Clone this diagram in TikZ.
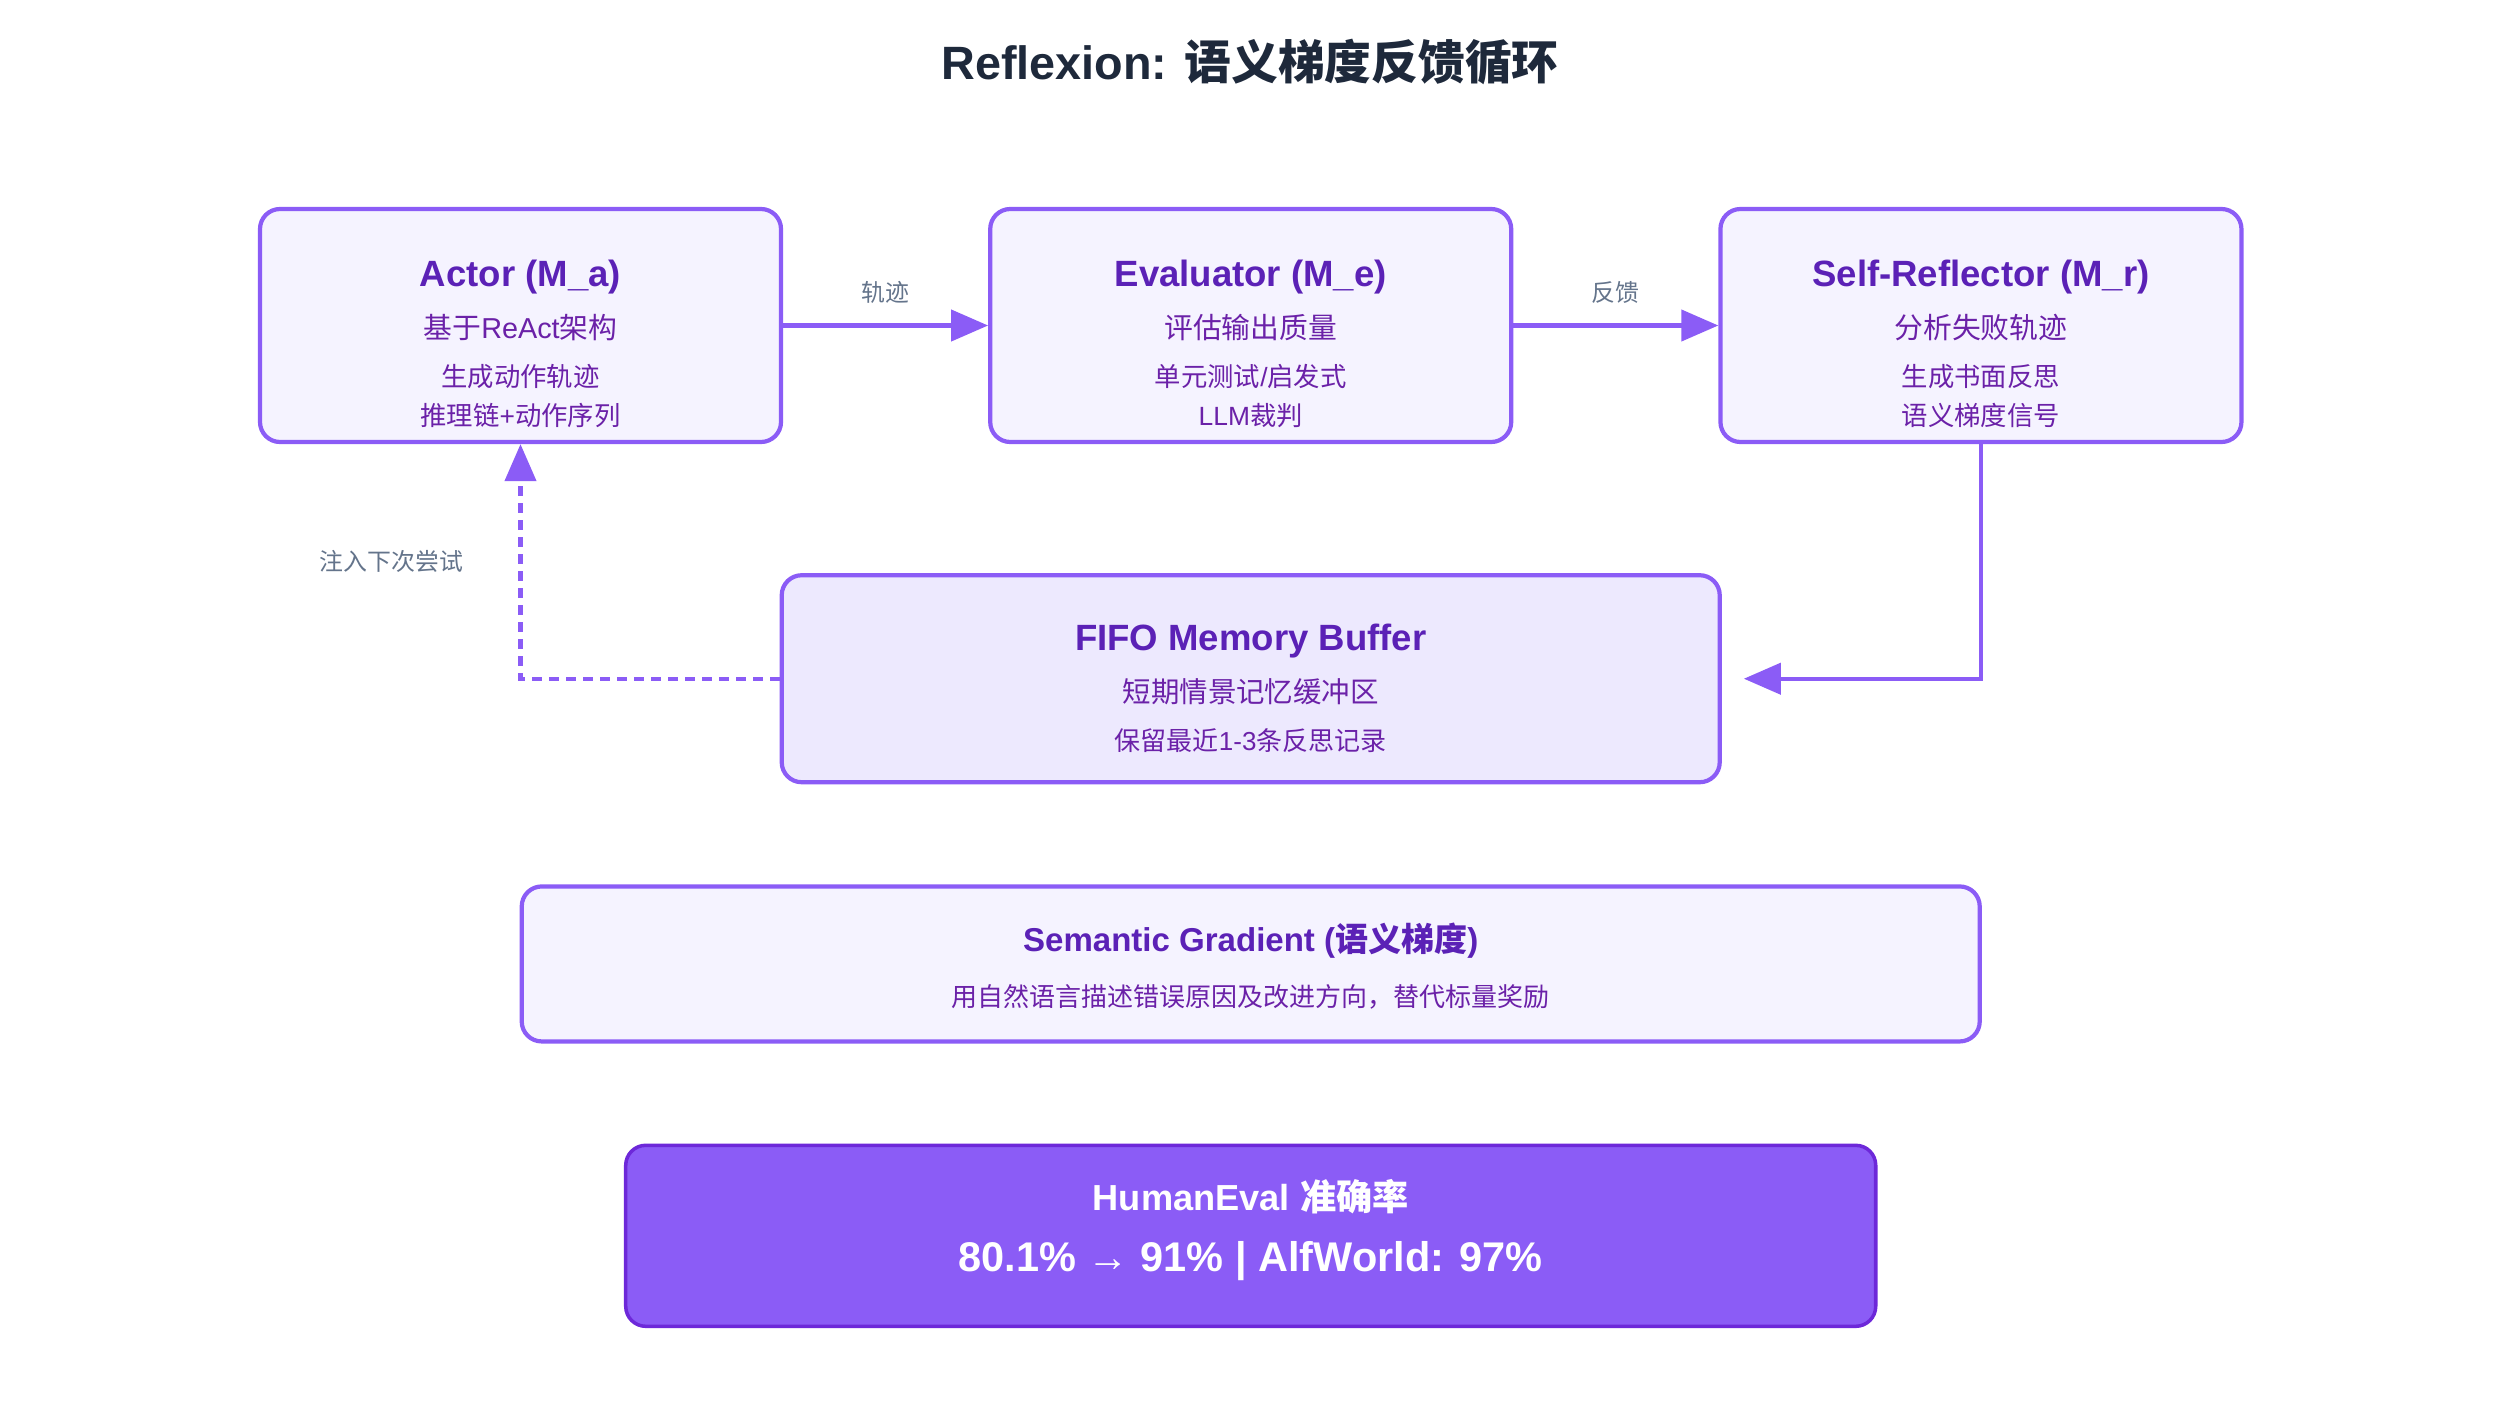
\documentclass[tikz,border=0pt]{standalone}
\usepackage{fontspec}
\setmainfont{Liberation Sans}
\newfontfamily\zhfont{Noto Sans CJK SC}
\newcommand{\hanzi}[1]{{\zhfont #1}}
\usepackage{tikz}
\usetikzlibrary{arrows.meta,positioning,calc}
\usepackage{xcolor}
\definecolor{violetline}{HTML}{8B5CF6}
\definecolor{violetfill}{HTML}{F5F3FF}
\definecolor{memfill}{HTML}{EDE9FE}
\definecolor{violetdeep}{HTML}{5B21B6}
\definecolor{violetsub}{HTML}{6B21A8}
\definecolor{resultline}{HTML}{6D28D9}
\definecolor{slatelabel}{HTML}{64748B}
\definecolor{titleink}{HTML}{1E293B}

\begin{document}
\begin{tikzpicture}[>={Triangle[length=0.37cm,width=0.31cm]},line width=1.2pt]
\tikzstyle{block}=[draw=violetline,fill=violetfill,rounded corners=0.2cm,minimum width=5.21cm,minimum height=2.33cm]
\tikzstyle{memblock}=[block,fill=memfill,minimum width=9.38cm,minimum height=2.07cm]
\tikzstyle{gradblock}=[block,minimum width=14.58cm,minimum height=1.55cm]
\tikzstyle{resultblock}=[draw=resultline,fill=violetline,line width=1pt,rounded corners=0.2cm,minimum width=12.5cm,minimum height=1.81cm]
\tikzstyle{blocktext}=[inner sep=0pt,align=center,text=violetsub]
\tikzstyle{flow}=[->,draw=violetline]
\tikzstyle{feedback}=[flow,dash pattern=on 0.1cm off 0.07cm]
\tikzstyle{flowlabel}=[text=slatelabel,inner sep=0pt,font=\fontsize{6.8}{8}\selectfont]
\newcommand{\headline}[1]{{\fontsize{10.4}{12}\selectfont\bfseries\color{violetdeep}#1}}
\useasboundingbox (0,0) rectangle (25,-14.06);

\node[text=titleink,font=\fontsize{13.3}{16}\selectfont\bfseries] (title) at (12.5,-0.62) {Reflexion: \hanzi{语义梯度反馈循环}};

% top row
\node[block] (actor) at (5.205,-3.255) {};
\node[block,right=2.05cm of actor] (evaluator) {};
\node[block,right=2.05cm of evaluator] (reflector) {};
\node[blocktext,below=0.51cm of actor.north,font=\fontsize{7.5}{11.1}\selectfont] (actortext) {
  \headline{Actor (M\_a)}\\[3.7pt]
  {\fontsize{8.2}{10}\selectfont\hanzi{基于}ReAct\hanzi{架构}}\\[2.6pt]
  \hanzi{生成动作轨迹}\\
  \hanzi{推理链}+\hanzi{动作序列}};
\node[blocktext,below=0.51cm of evaluator.north,font=\fontsize{7.5}{11.1}\selectfont] (evaluatortext) {
  \headline{Evaluator (M\_e)}\\[3.7pt]
  {\fontsize{8.2}{10}\selectfont\hanzi{评估输出质量}}\\[2.6pt]
  \hanzi{单元测试}/\hanzi{启发式}\\
  LLM\hanzi{裁判}};
\node[blocktext,below=0.51cm of reflector.north,font=\fontsize{7.5}{11.1}\selectfont] (reflectortext) {
  \headline{Self-Reflector (M\_r)}\\[3.7pt]
  {\fontsize{8.2}{10}\selectfont\hanzi{分析失败轨迹}}\\[2.6pt]
  \hanzi{生成书面反思}\\
  \hanzi{语义梯度信号}};

% memory and summary
\node[memblock,below=1.29cm of evaluator] (fifo) {};
\node[blocktext,below=0.49cm of fifo.north,font=\fontsize{7.4}{11}\selectfont] (fifotext) {
  \headline{FIFO Memory Buffer}\\[3.8pt]
  {\fontsize{8.1}{10}\selectfont\hanzi{短期情景记忆缓冲区}}\\[2.7pt]
  \hanzi{保留最近}1-3\hanzi{条反思记录}};
\node[gradblock,below=1.0cm of fifo] (gradient) {};
\node[blocktext,below=0.37cm of gradient.north,font=\fontsize{7.4}{10}\selectfont] (gradienttext) {
  {\fontsize{9.4}{11}\selectfont\bfseries\color{violetdeep}Semantic Gradient (\hanzi{语义梯度})}\\[5.4pt]
  \hanzi{用自然语言描述错误原因及改进方向，替代标量奖励}};
\node[resultblock,below=1.0cm of gradient] (result) {};
\node[blocktext,text=white,below=0.34cm of result.north,font=\fontsize{11.8}{14}\selectfont\bfseries] (resulttext) {
  {\fontsize{10.3}{12}\selectfont HumanEval \hanzi{准确率}}\\[3.4pt]
  80.1\% → 91\% | AlfWorld: 97\%};

% connectors
\draw[flow] (actor) -- node[flowlabel,above=0.2cm] {\hanzi{轨迹}} (evaluator);
\draw[flow] (evaluator) -- node[flowlabel,above=0.2cm] {\hanzi{反馈}} (reflector);
\draw[flow,shorten >=0.22cm] (reflector.south) |- (fifo.east);
\draw[feedback] (fifo.west) -| node[flowlabel,pos=0.75,left=0.55cm] {\hanzi{注入下次尝试}} (actor.south);
\end{tikzpicture}
\end{document}
